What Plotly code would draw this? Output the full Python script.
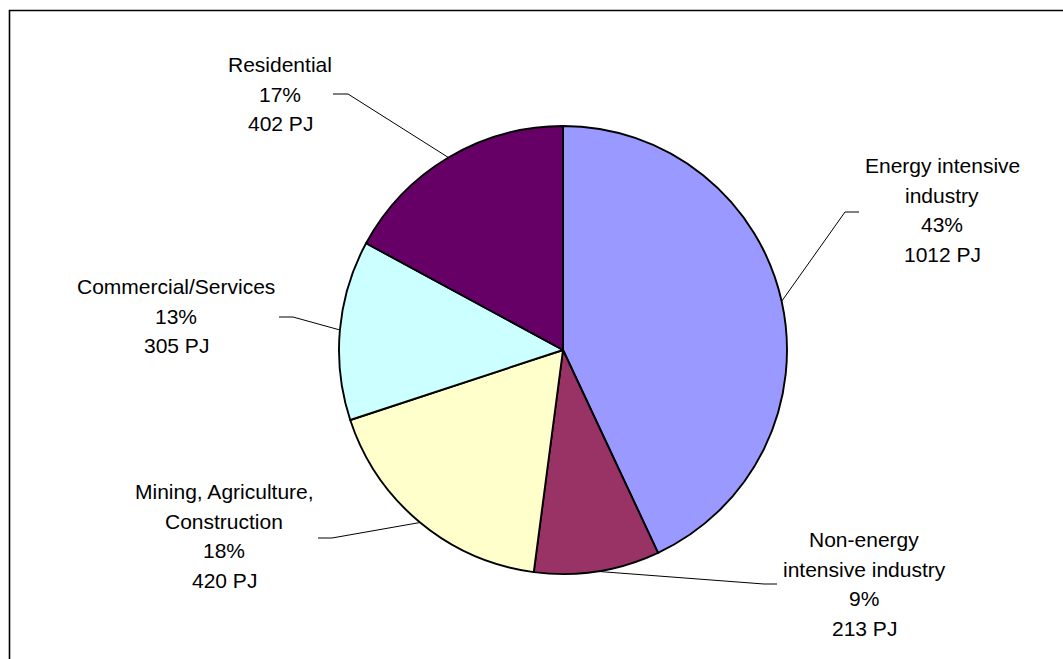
import math
import plotly.graph_objects as go

W, H = 1063, 659

# Final energy use by sector (PJ)
sectors = [
    "Energy intensive industry",
    "Non-energy intensive industry",
    "Mining, Agriculture, Construction",
    "Commercial/Services",
    "Residential",
]
label_lines = [
    ["Energy intensive", "industry"],
    ["Non-energy", "intensive industry"],
    ["Mining, Agriculture,", "Construction"],
    ["Commercial/Services"],
    ["Residential"],
]
energy_pj = [1012, 213, 420, 305, 402]
colors = ["#9999FF", "#993366", "#FFFFCC", "#CCFFFF", "#660066"]

# Pie geometry in pixels
CX, CY, R = 563, 350, 224

# Label block centres and leader-line elbow / end points (pixels)
label_pos = [(942, 210), (864, 584), (224, 536), (176, 316), (280, 94)]
leader_elbow = [(845, 212), (764, 584), (332, 538), (293, 317), (348, 94)]
leader_end = [(859, 212), (777, 584), (318, 538), (279, 317), (333, 94)]
LINE_GAP = 29.5


def px(x):
    return x / W


def py(y):
    return 1 - y / H


fig = go.Figure(
    go.Pie(
        labels=sectors,
        values=energy_pj,
        sort=False,
        direction="clockwise",
        rotation=0,
        marker=dict(colors=colors, line=dict(color="black", width=1.9)),
        textinfo="none",
        hoverinfo="skip",
        domain=dict(x=[px(CX - R), px(CX + R)], y=[py(CY + R), py(CY - R)]),
    )
)

total = sum(energy_pj)
annotations = []
shapes = []
cum = 0
for i, v in enumerate(energy_pj):
    mid = (cum + v / 2) / total * 2 * math.pi
    cum += v
    ex = CX + R * math.sin(mid)
    ey = CY - R * math.cos(mid)
    (bx, by), (tx, ty) = leader_elbow[i], leader_end[i]
    shapes.append(dict(
        type="path", xref="paper", yref="paper",
        path=f"M {px(ex)},{py(ey)} L {px(bx)},{py(by)} L {px(tx)},{py(ty)}",
        line=dict(color="black", width=1),
    ))
    pct = round(v / total * 100)
    lines = label_lines[i] + [f"{pct}%", f"{v} PJ"]
    lx, ly = label_pos[i]
    n = len(lines)
    for j, t in enumerate(lines):
        yy = ly + (j - (n - 1) / 2) * LINE_GAP
        annotations.append(dict(
            x=px(lx), y=py(yy), xref="paper", yref="paper",
            text=t, showarrow=False, xanchor="center", yanchor="middle",
            font=dict(family="Liberation Sans, Arial, sans-serif", size=21, color="black"),
        ))

# Chart frame
shapes.append(dict(
    type="rect", xref="paper", yref="paper",
    x0=px(9.5), y0=py(10.5), x1=1.02, y1=-0.02,
    line=dict(color="black", width=1.6), fillcolor="rgba(0,0,0,0)",
))

fig.update_layout(
    width=W, height=H,
    margin=dict(l=0, r=0, t=0, b=0),
    paper_bgcolor="white",
    plot_bgcolor="white",
    showlegend=False,
    annotations=annotations,
    shapes=shapes,
)

fig.write_html("out.html")
